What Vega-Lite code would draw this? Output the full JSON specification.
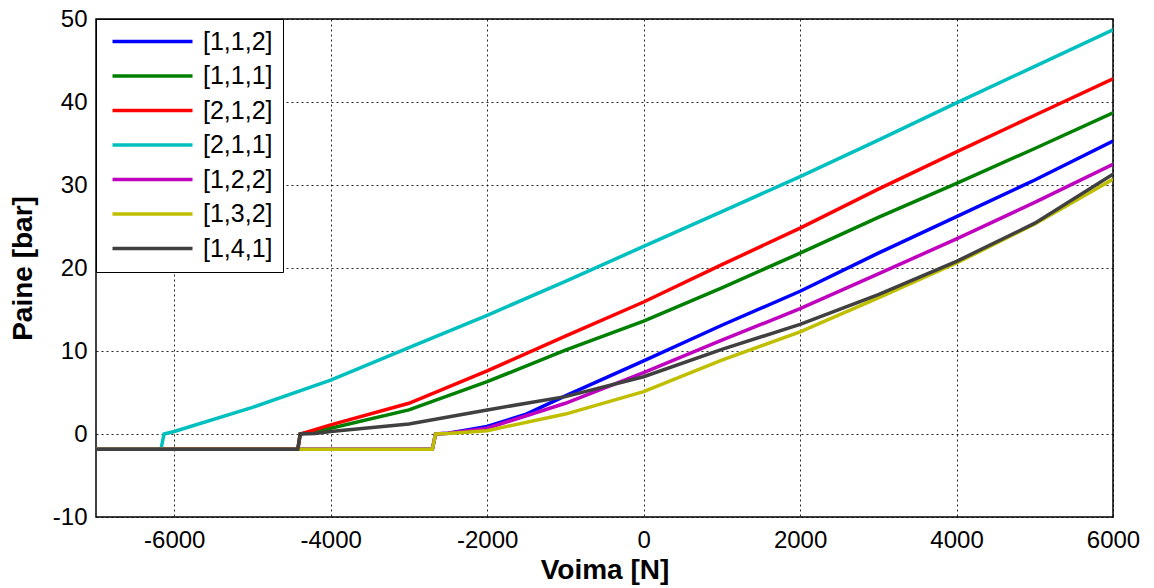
{
  "$schema": "https://vega.github.io/schema/vega-lite/v6.json",
  "width": 1017,
  "height": 498,
  "autosize": {"type": "none"},
  "padding": {"left": 96, "top": 19, "right": 41, "bottom": 71},
  "background": "white",
  "config": {
    "font": "Liberation Sans",
    "view": {"stroke": "#000", "strokeWidth": 1.5},
    "axis": {
      "domain": false,
      "ticks": false,
      "grid": true,
      "gridColor": "#000",
      "gridDash": [2, 3],
      "gridWidth": 1,
      "gridOpacity": 0.85,
      "labelFlush": false,
      "labelOverlap": false,
      "labelFont": "Liberation Sans",
      "labelFontSize": 24,
      "labelColor": "#000",
      "titleFont": "Liberation Sans",
      "titleFontSize": 28,
      "titleFontWeight": "bold",
      "titleColor": "#000"
    }
  },
  "data": {
    "values": [
      {"s": "[1,1,2]", "x": -7000, "y": -1.85},
      {"s": "[1,1,2]", "x": -2700, "y": -1.85},
      {"s": "[1,1,2]", "x": -2660, "y": 0},
      {"s": "[1,1,2]", "x": -2500, "y": 0.1},
      {"s": "[1,1,2]", "x": -2000, "y": 0.9},
      {"s": "[1,1,2]", "x": -1500, "y": 2.4},
      {"s": "[1,1,2]", "x": -1000, "y": 4.6},
      {"s": "[1,1,2]", "x": 0, "y": 8.8},
      {"s": "[1,1,2]", "x": 1000, "y": 13.1},
      {"s": "[1,1,2]", "x": 2000, "y": 17.2},
      {"s": "[1,1,2]", "x": 3000, "y": 21.8},
      {"s": "[1,1,2]", "x": 4000, "y": 26.2},
      {"s": "[1,1,2]", "x": 5000, "y": 30.6},
      {"s": "[1,1,2]", "x": 6000, "y": 35.3},

      {"s": "[1,1,1]", "x": -7000, "y": -1.85},
      {"s": "[1,1,1]", "x": -4420, "y": -1.85},
      {"s": "[1,1,1]", "x": -4390, "y": 0},
      {"s": "[1,1,1]", "x": -4000, "y": 0.7},
      {"s": "[1,1,1]", "x": -3000, "y": 2.9},
      {"s": "[1,1,1]", "x": -2000, "y": 6.3},
      {"s": "[1,1,1]", "x": -1000, "y": 10.1},
      {"s": "[1,1,1]", "x": 0, "y": 13.6},
      {"s": "[1,1,1]", "x": 1000, "y": 17.6},
      {"s": "[1,1,1]", "x": 2000, "y": 21.8},
      {"s": "[1,1,1]", "x": 3000, "y": 26.1},
      {"s": "[1,1,1]", "x": 4000, "y": 30.2},
      {"s": "[1,1,1]", "x": 5000, "y": 34.4},
      {"s": "[1,1,1]", "x": 6000, "y": 38.7},

      {"s": "[2,1,2]", "x": -7000, "y": -1.85},
      {"s": "[2,1,2]", "x": -4420, "y": -1.85},
      {"s": "[2,1,2]", "x": -4390, "y": 0},
      {"s": "[2,1,2]", "x": -4000, "y": 1.1},
      {"s": "[2,1,2]", "x": -3000, "y": 3.7},
      {"s": "[2,1,2]", "x": -2000, "y": 7.6},
      {"s": "[2,1,2]", "x": -1000, "y": 11.8},
      {"s": "[2,1,2]", "x": 0, "y": 15.9},
      {"s": "[2,1,2]", "x": 1000, "y": 20.4},
      {"s": "[2,1,2]", "x": 2000, "y": 24.8},
      {"s": "[2,1,2]", "x": 3000, "y": 29.5},
      {"s": "[2,1,2]", "x": 4000, "y": 34.0},
      {"s": "[2,1,2]", "x": 5000, "y": 38.4},
      {"s": "[2,1,2]", "x": 6000, "y": 42.8},

      {"s": "[2,1,1]", "x": -7000, "y": -1.85},
      {"s": "[2,1,1]", "x": -6170, "y": -1.85},
      {"s": "[2,1,1]", "x": -6130, "y": 0},
      {"s": "[2,1,1]", "x": -6000, "y": 0.3},
      {"s": "[2,1,1]", "x": -5000, "y": 3.2},
      {"s": "[2,1,1]", "x": -4000, "y": 6.5},
      {"s": "[2,1,1]", "x": -3000, "y": 10.4},
      {"s": "[2,1,1]", "x": -2000, "y": 14.3},
      {"s": "[2,1,1]", "x": -1000, "y": 18.4},
      {"s": "[2,1,1]", "x": 0, "y": 22.6},
      {"s": "[2,1,1]", "x": 1000, "y": 26.8},
      {"s": "[2,1,1]", "x": 2000, "y": 31.0},
      {"s": "[2,1,1]", "x": 3000, "y": 35.4},
      {"s": "[2,1,1]", "x": 4000, "y": 39.9},
      {"s": "[2,1,1]", "x": 5000, "y": 44.3},
      {"s": "[2,1,1]", "x": 6000, "y": 48.7},

      {"s": "[1,2,2]", "x": -7000, "y": -1.85},
      {"s": "[1,2,2]", "x": -2700, "y": -1.85},
      {"s": "[1,2,2]", "x": -2660, "y": 0},
      {"s": "[1,2,2]", "x": -2500, "y": 0.1},
      {"s": "[1,2,2]", "x": -2000, "y": 0.7},
      {"s": "[1,2,2]", "x": -1000, "y": 3.7},
      {"s": "[1,2,2]", "x": 0, "y": 7.4},
      {"s": "[1,2,2]", "x": 1000, "y": 11.3},
      {"s": "[1,2,2]", "x": 2000, "y": 15.1},
      {"s": "[1,2,2]", "x": 3000, "y": 19.3},
      {"s": "[1,2,2]", "x": 4000, "y": 23.5},
      {"s": "[1,2,2]", "x": 5000, "y": 27.9},
      {"s": "[1,2,2]", "x": 6000, "y": 32.5},

      {"s": "[1,3,2]", "x": -7000, "y": -1.85},
      {"s": "[1,3,2]", "x": -2700, "y": -1.85},
      {"s": "[1,3,2]", "x": -2660, "y": 0},
      {"s": "[1,3,2]", "x": -2500, "y": 0.05},
      {"s": "[1,3,2]", "x": -2000, "y": 0.4},
      {"s": "[1,3,2]", "x": -1000, "y": 2.4},
      {"s": "[1,3,2]", "x": 0, "y": 5.1},
      {"s": "[1,3,2]", "x": 1000, "y": 8.9},
      {"s": "[1,3,2]", "x": 2000, "y": 12.3},
      {"s": "[1,3,2]", "x": 3000, "y": 16.4},
      {"s": "[1,3,2]", "x": 4000, "y": 20.6},
      {"s": "[1,3,2]", "x": 5000, "y": 25.3},
      {"s": "[1,3,2]", "x": 6000, "y": 30.7},

      {"s": "[1,4,1]", "x": -7000, "y": -1.85},
      {"s": "[1,4,1]", "x": -4420, "y": -1.85},
      {"s": "[1,4,1]", "x": -4390, "y": 0},
      {"s": "[1,4,1]", "x": -4200, "y": 0.05},
      {"s": "[1,4,1]", "x": -4000, "y": 0.3},
      {"s": "[1,4,1]", "x": -3000, "y": 1.2},
      {"s": "[1,4,1]", "x": -2000, "y": 2.9},
      {"s": "[1,4,1]", "x": -1000, "y": 4.5},
      {"s": "[1,4,1]", "x": 0, "y": 6.9},
      {"s": "[1,4,1]", "x": 1000, "y": 10.2},
      {"s": "[1,4,1]", "x": 2000, "y": 13.2},
      {"s": "[1,4,1]", "x": 3000, "y": 16.8},
      {"s": "[1,4,1]", "x": 4000, "y": 20.8},
      {"s": "[1,4,1]", "x": 5000, "y": 25.4},
      {"s": "[1,4,1]", "x": 6000, "y": 31.3}
    ]
  },
  "mark": {"type": "line", "strokeWidth": 3.5, "clip": true},
  "encoding": {
    "x": {
      "field": "x",
      "type": "quantitative",
      "scale": {"domain": [-7000, 6000], "nice": false, "zero": false},
      "axis": {
        "title": "Voima [N]",
        "values": [-6000, -4000, -2000, 0, 2000, 4000, 6000],
        "labelExpr": "toString(datum.value)",
        "labelPadding": 11,
        "titlePadding": 4
      }
    },
    "y": {
      "field": "y",
      "type": "quantitative",
      "scale": {"domain": [-10, 50], "nice": false, "zero": false},
      "axis": {
        "title": "Paine [bar]",
        "values": [-10, 0, 10, 20, 30, 40, 50],
        "labelExpr": "toString(datum.value)",
        "labelPadding": 9,
        "titlePadding": 15
      }
    },
    "color": {
      "field": "s",
      "type": "nominal",
      "scale": {
        "domain": ["[1,1,2]", "[1,1,1]", "[2,1,2]", "[2,1,1]", "[1,2,2]", "[1,3,2]", "[1,4,1]"],
        "range": ["#0000FF", "#008000", "#FF0000", "#00BFBF", "#BF00BF", "#BFBF00", "#404040"]
      },
      "legend": {
        "title": null,
        "orient": "top-left",
        "offset": 0,
        "fillColor": "white",
        "strokeColor": "#000",
        "padding": 10,
        "symbolType": "M-4,0H4",
        "symbolSize": 400,
        "symbolStrokeWidth": 3.5,
        "symbolOffset": 34,
        "labelOffset": 38,
        "labelFontSize": 25,
        "labelFont": "Liberation Sans",
        "labelColor": "#000",
        "rowPadding": 8.5
      }
    }
  }
}
